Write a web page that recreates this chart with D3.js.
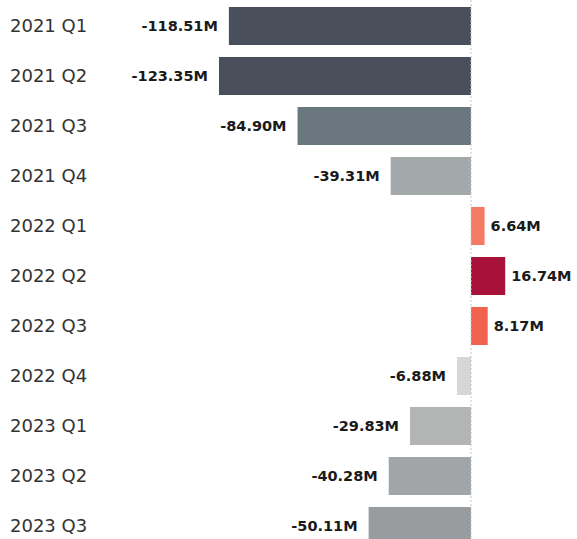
<!DOCTYPE html>
<html>
<head>
<meta charset="utf-8">
<script src="https://cdn.jsdelivr.net/npm/d3@7"></script>
<style>
  body { margin: 0; background: #fff; }
</style>
</head>
<body>
<script>
var quarters = ["2021 Q1","2021 Q2","2021 Q3","2021 Q4","2022 Q1","2022 Q2","2022 Q3","2022 Q4","2023 Q1","2023 Q2","2023 Q3"];
var values = [-118.51, -123.35, -84.90, -39.31, 6.64, 16.74, 8.17, -6.88, -29.83, -40.28, -50.11];
var colors = ["#4a505b","#4a505b","#6b777e","#a3a8aa","#f47a64","#a8123a","#f0644f","#d6d6d6","#b3b5b5","#a2a5a7","#999c9e"];

var width = 577, height = 539;

var data = quarters.map(function(q, i) {
    return {q: q, v: values[i], c: colors[i]};
});

var svg = d3.select("body").append("svg")
    .attr("width", width)
    .attr("height", height);

var x = d3.scaleLinear().domain([-130, 30]).range([205.4, 532.3]);

var y = d3.scaleBand()
    .domain(quarters)
    .range([1, 551])
    .paddingInner(0.24)
    .paddingOuter(0.12);

// bars
svg.selectAll(".bar").data(data).enter().append("rect")
    .attr("class", "bar")
    .attr("x", function(d) { return x(Math.min(0, d.v)); })
    .attr("y", function(d) { return y(d.q); })
    .attr("width", function(d) { return Math.abs(x(d.v) - x(0)); })
    .attr("height", y.bandwidth())
    .style("fill", function(d) { return d.c; });

// zero line
svg.append("line")
    .attr("x1", x(0)).attr("x2", x(0))
    .attr("y1", 0).attr("y2", height)
    .style("stroke", "#c4c4c4")
    .style("stroke-width", 1)
    .style("stroke-dasharray", "2,2");

// category labels
svg.selectAll(".cat").data(data).enter().append("text")
    .attr("class", "cat")
    .attr("x", 10)
    .attr("y", function(d) { return y(d.q) + y.bandwidth()/2; })
    .attr("dy", "0.36em")
    .style("font-family", "DejaVu Sans")
    .style("font-size", "18px")
    .style("fill", "#333")
    .text(function(d) { return d.q; });

// value labels (plain hyphen for negatives, like the original)
svg.selectAll(".val").data(data).enter().append("text")
    .attr("class", "val")
    .attr("x", function(d) { return d.v < 0 ? x(d.v) - 11 : x(d.v) + 6; })
    .attr("y", function(d) { return y(d.q) + y.bandwidth()/2; })
    .attr("dy", "0.36em")
    .style("text-anchor", function(d) { return d.v < 0 ? "end" : "start"; })
    .style("font-family", "DejaVu Sans")
    .style("font-weight", "bold")
    .style("font-size", "14.5px")
    .style("fill", "#1a1a1a")
    .text(function(d) { return d.v.toFixed(2) + "M"; });
</script>
</body>
</html>
